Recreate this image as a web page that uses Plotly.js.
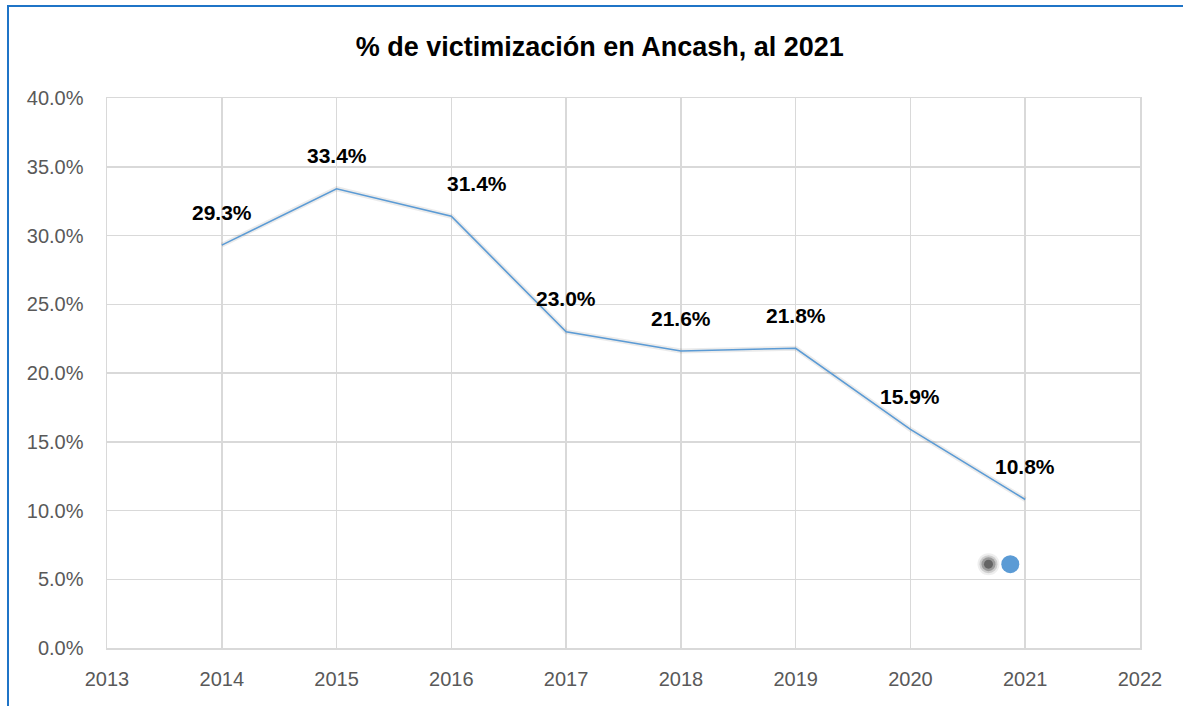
<!DOCTYPE html>
<html><head><meta charset="utf-8">
<script src="https://cdn.plot.ly/plotly-3.0.1.min.js"></script>
<style>
html,body{margin:0;padding:0;background:#fff;}
#wrap{position:relative;width:1183px;height:706px;}
#chart{position:absolute;left:0;top:0;width:1183px;height:706px;}
#frame{position:absolute;left:7px;top:5px;width:1190px;height:720px;border-left:2px solid #1F74C7;border-top:2px solid #1F74C7;pointer-events:none;}
</style></head>
<body><div id="wrap"><div id="chart"></div><div id="frame"></div></div>
<script>
const years = [2014, 2015, 2016, 2017, 2018, 2019, 2020, 2021];
const victimizacion = [0.293, 0.334, 0.314, 0.230, 0.216, 0.218, 0.159, 0.108];
const labels = ["29.3%", "33.4%", "31.4%", "23.0%", "21.6%", "21.8%", "15.9%", "10.8%"];
const strayX = [2020.87];
const strayY = [0.061];
const titleText = "% de victimización en Ancash, al 2021";

const labelShift = {2016: 26};
const FONT = 'Liberation Sans, Arial, sans-serif';

const traces = [
  {x: years, y: victimizacion, mode: 'lines', line: {color: 'rgba(0,0,0,0.08)', width: 5}, hoverinfo: 'skip', showlegend: false},
  {x: years, y: victimizacion, mode: 'lines', line: {color: '#5B9BD5', width: 1.6}, showlegend: false},
  {x: strayX.map(v => v - 0.19), y: strayY, mode: 'markers', marker: {size: 22, color: 'rgba(90,90,90,0.10)', line: {width: 0}}, showlegend: false, hoverinfo: 'skip'},
  {x: strayX.map(v => v - 0.19), y: strayY, mode: 'markers', marker: {size: 18, color: 'rgba(90,90,90,0.22)', line: {width: 0}}, showlegend: false, hoverinfo: 'skip'},
  {x: strayX.map(v => v - 0.19), y: strayY, mode: 'markers', marker: {size: 14, color: 'rgba(80,80,80,0.40)', line: {width: 0}}, showlegend: false, hoverinfo: 'skip'},
  {x: strayX.map(v => v - 0.19), y: strayY, mode: 'markers', marker: {size: 9, color: 'rgba(70,70,70,0.65)', line: {width: 0}}, showlegend: false, hoverinfo: 'skip'},
  {x: strayX, y: strayY, mode: 'markers', marker: {size: 18, color: '#5B9BD5', line: {width: 0}}, showlegend: false}
];

const annotations = years.map((yr, i) => ({
  x: yr, y: victimizacion[i], xref: 'x', yref: 'y', text: labels[i], showarrow: false,
  yshift: 33, xshift: labelShift[yr] || 0,
  font: {family: FONT, size: 21, color: '#000', weight: 'bold'}
}));

const layout = {
  width: 1183, height: 706,
  margin: {l: 107, r: 43, t: 98, b: 58},
  paper_bgcolor: '#fff', plot_bgcolor: '#fff',
  title: {text: '<b>' + titleText + '</b>', x: 0.507, xanchor: 'center', y: 0.934, yanchor: 'middle',
          font: {family: FONT, size: 27, color: '#000'}},
  xaxis: {range: [2013, 2022], dtick: 1, tick0: 2013, showgrid: true, gridcolor: '#d9d9d9', gridwidth: 1.5,
          showline: true, linecolor: '#d9d9d9', linewidth: 1.5, mirror: true, zeroline: false, ticks: '',
          ticklabelstandoff: 12,
          tickfont: {family: FONT, size: 20, color: '#595959'}},
  yaxis: {range: [0, 0.40], dtick: 0.05, tickformat: '.1%', showgrid: true, gridcolor: '#d9d9d9', gridwidth: 1.5,
          showline: true, linecolor: '#d9d9d9', linewidth: 1.5, mirror: true, zeroline: false, ticks: '',
          ticklabelstandoff: 18,
          tickfont: {family: FONT, size: 20, color: '#595959'}},
  annotations: annotations,
  showlegend: false
};
Plotly.newPlot('chart', traces, layout, {displayModeBar: false, staticPlot: true});
</script></body></html>
